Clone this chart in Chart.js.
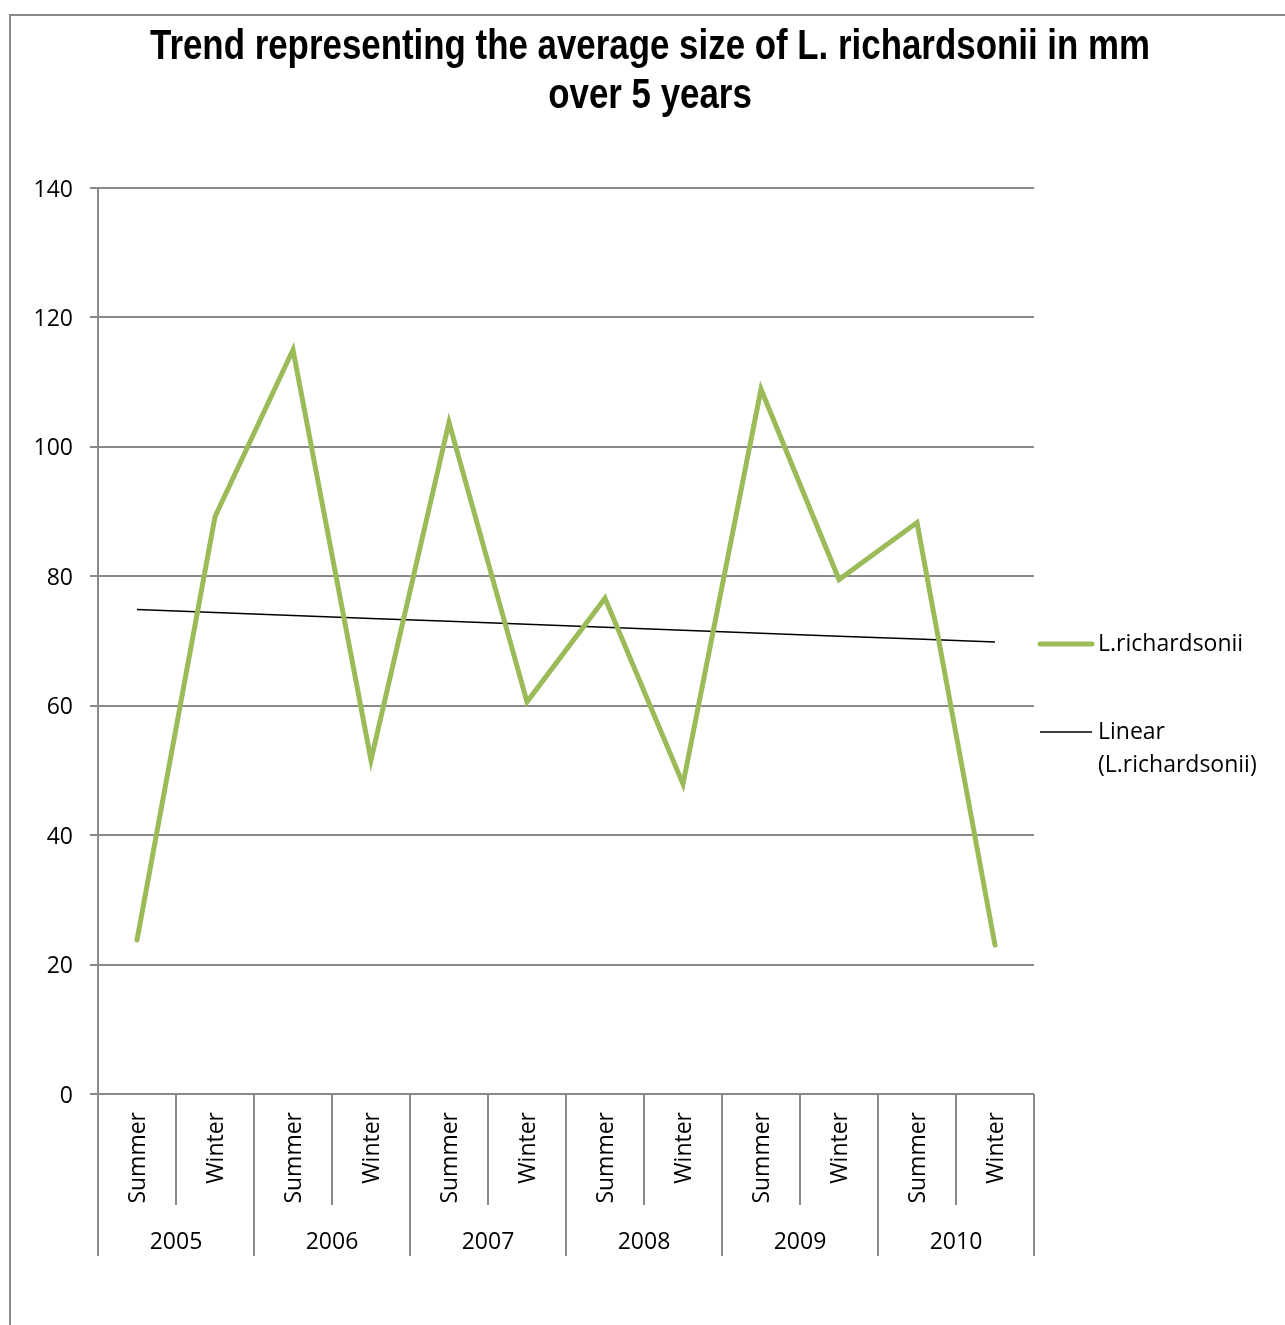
<!DOCTYPE html>
<html>
<head>
<meta charset="utf-8">
<title>L. richardsonii size trend</title>
<script src="https://cdn.jsdelivr.net/npm/chart.js@4/dist/chart.umd.min.js"></script>
<style>
  html, body { margin: 0; padding: 0; background: #fff; }
  canvas { display: block; }
</style>
</head>
<body>
<canvas id="size-chart" width="1285" height="1325"></canvas>
<script>
/*global Chart*/

const titleLines = ["Trend representing the average size of L. richardsonii in mm", "over 5 years"];
const seasons = ["Summer", "Winter", "Summer", "Winter", "Summer", "Winter",
                 "Summer", "Winter", "Summer", "Winter", "Summer", "Winter"];
const years = ["2005", "2006", "2007", "2008", "2009", "2010"];
const sizes = [23.8, 89.2, 115.0, 51.6, 103.8, 60.6, 76.6, 47.9, 108.9, 79.5, 88.3, 23.0];
const seriesName = "L.richardsonii";
const trendName = ["Linear", "(L.richardsonii)"];
const yTicks = [0, 20, 40, 60, 80, 100, 120, 140];

const GRID = "#898989";
const GREEN = "#9BBB59";
const FONT = '"Open Sans", "Noto Sans", sans-serif';

// least squares fit, same as the spreadsheet's linear trendline
function linearTrend(values) {
  const n = values.length;
  let sx = 0, sy = 0, sxy = 0, sxx = 0;
  values.forEach((v, i) => {
    sx += i; sy += v; sxy += i * v; sxx += i * i;
  });
  const slope = (n * sxy - sx * sy) / (n * sxx - sx * sx);
  const icept = (sy - slope * sx) / n;
  return values.map((v, i) => icept + slope * i);
}

Chart.defaults.font.family = FONT;
Chart.defaults.font.size = 23;
Chart.defaults.color = "#000";

// frame, title, two-level category axis and the legend on the right
const decorations = {
  id: "decorations",
  beforeDraw(chart) {
    const ctx = chart.ctx;
    ctx.save();
    ctx.strokeStyle = GRID;
    ctx.lineWidth = 2;
    ctx.beginPath();
    ctx.moveTo(10, chart.height);
    ctx.lineTo(10, 15);
    ctx.lineTo(chart.width, 15);
    ctx.stroke();
    ctx.restore();
  },
  afterDraw(chart) {
    const ctx = chart.ctx;
    const x = chart.scales.x;
    const bottom = chart.chartArea.bottom;
    const step = x.getPixelForValue(1) - x.getPixelForValue(0);

    // title, squeezed to a narrow bold face
    ctx.save();
    ctx.font = "bold 42px \"Liberation Sans\", Arial, sans-serif";
    const squeeze = 1000 / ctx.measureText(titleLines[0]).width;
    ctx.translate(650, 0);
    ctx.scale(squeeze, 1);
    ctx.fillStyle = "#000";
    ctx.textAlign = "center";
    ctx.textBaseline = "alphabetic";
    ctx.fillText(titleLines[0], 0, 59);
    ctx.fillText(titleLines[1], 0, 108);
    ctx.restore();

    // category separators: short between seasons, long between years
    ctx.save();
    ctx.strokeStyle = GRID;
    ctx.lineWidth = 2;
    for (let i = 0; i <= seasons.length; i++) {
      const bx = Math.round(x.getPixelForValue(0) - step / 2 + i * step);
      const len = i % 2 === 0 ? 162 : 111;
      ctx.beginPath();
      ctx.moveTo(bx, bottom);
      ctx.lineTo(bx, bottom + len);
      ctx.stroke();
    }
    ctx.restore();

    ctx.save();
    ctx.font = "23px " + FONT;
    ctx.fillStyle = "#000";
    seasons.forEach((s, i) => {
      ctx.save();
      ctx.translate(x.getPixelForValue(i) + 1, bottom + 18);
      ctx.rotate(-Math.PI / 2);
      ctx.textAlign = "right";
      ctx.textBaseline = "middle";
      ctx.fillText(s, 0, 0);
      ctx.restore();
    });
    ctx.textAlign = "center";
    ctx.textBaseline = "middle";
    years.forEach((yr, i) => {
      const cx = (x.getPixelForValue(2 * i) + x.getPixelForValue(2 * i + 1)) / 2;
      ctx.fillText(yr, cx, bottom + 148);
    });

    // legend
    const lx = chart.chartArea.right + 6;
    ctx.lineCap = "round";
    ctx.strokeStyle = GREEN;
    ctx.lineWidth = 5;
    ctx.beginPath();
    ctx.moveTo(lx, 644);
    ctx.lineTo(lx + 52, 644);
    ctx.stroke();
    ctx.lineCap = "butt";
    ctx.strokeStyle = "#000";
    ctx.lineWidth = 1.5;
    ctx.beginPath();
    ctx.moveTo(lx, 732);
    ctx.lineTo(lx + 52, 732);
    ctx.stroke();
    ctx.textAlign = "left";
    ctx.fillText(seriesName, lx + 58, 644);
    ctx.fillText(trendName[0], lx + 58, 732);
    ctx.fillText(trendName[1], lx + 58, 765);
    ctx.restore();
  }
};

const ctx = document.getElementById("size-chart").getContext("2d");

new Chart(ctx, {
  type: "line",
  plugins: [decorations],
  data: {
    labels: seasons,
    datasets: [
      {
        label: seriesName,
        data: sizes,
        borderColor: GREEN,
        borderWidth: 5,
        borderCapStyle: "round",
        borderJoinStyle: "miter",
        pointRadius: 0,
        tension: 0,
        clip: false,
      },
      {
        label: trendName.join(" "),
        data: linearTrend(sizes),
        borderColor: "#000",
        borderWidth: 1.5,
        pointRadius: 0,
        tension: 0,
      },
    ],
  },
  options: {
    responsive: false,
    animation: false,
    devicePixelRatio: 1,
    layout: {
      padding: { top: 188, right: 251, bottom: 0, left: 0 },
    },
    scales: {
      x: {
        offset: true,
        grid: { display: false },
        border: { display: false },
        ticks: { display: false },
        afterFit(scale) {
          scale.height = 231;
        },
      },
      y: {
        min: 0,
        max: 140,
        afterBuildTicks(scale) {
          scale.ticks = yTicks.map((v) => ({ value: v }));
        },
        grid: {
          color: GRID,
          lineWidth: 2,
          tickLength: 8,
        },
        border: { color: GRID, width: 2 },
        ticks: {
          padding: 17,
          labelOffset: 2,
          font: { size: 23 },
        },
        afterFit(scale) {
          scale.width = 98;
        },
      },
    },
    plugins: {
      legend: { display: false },
      tooltip: { enabled: false },
      title: { display: false },
    },
  },
});
</script>
</body>
</html>
